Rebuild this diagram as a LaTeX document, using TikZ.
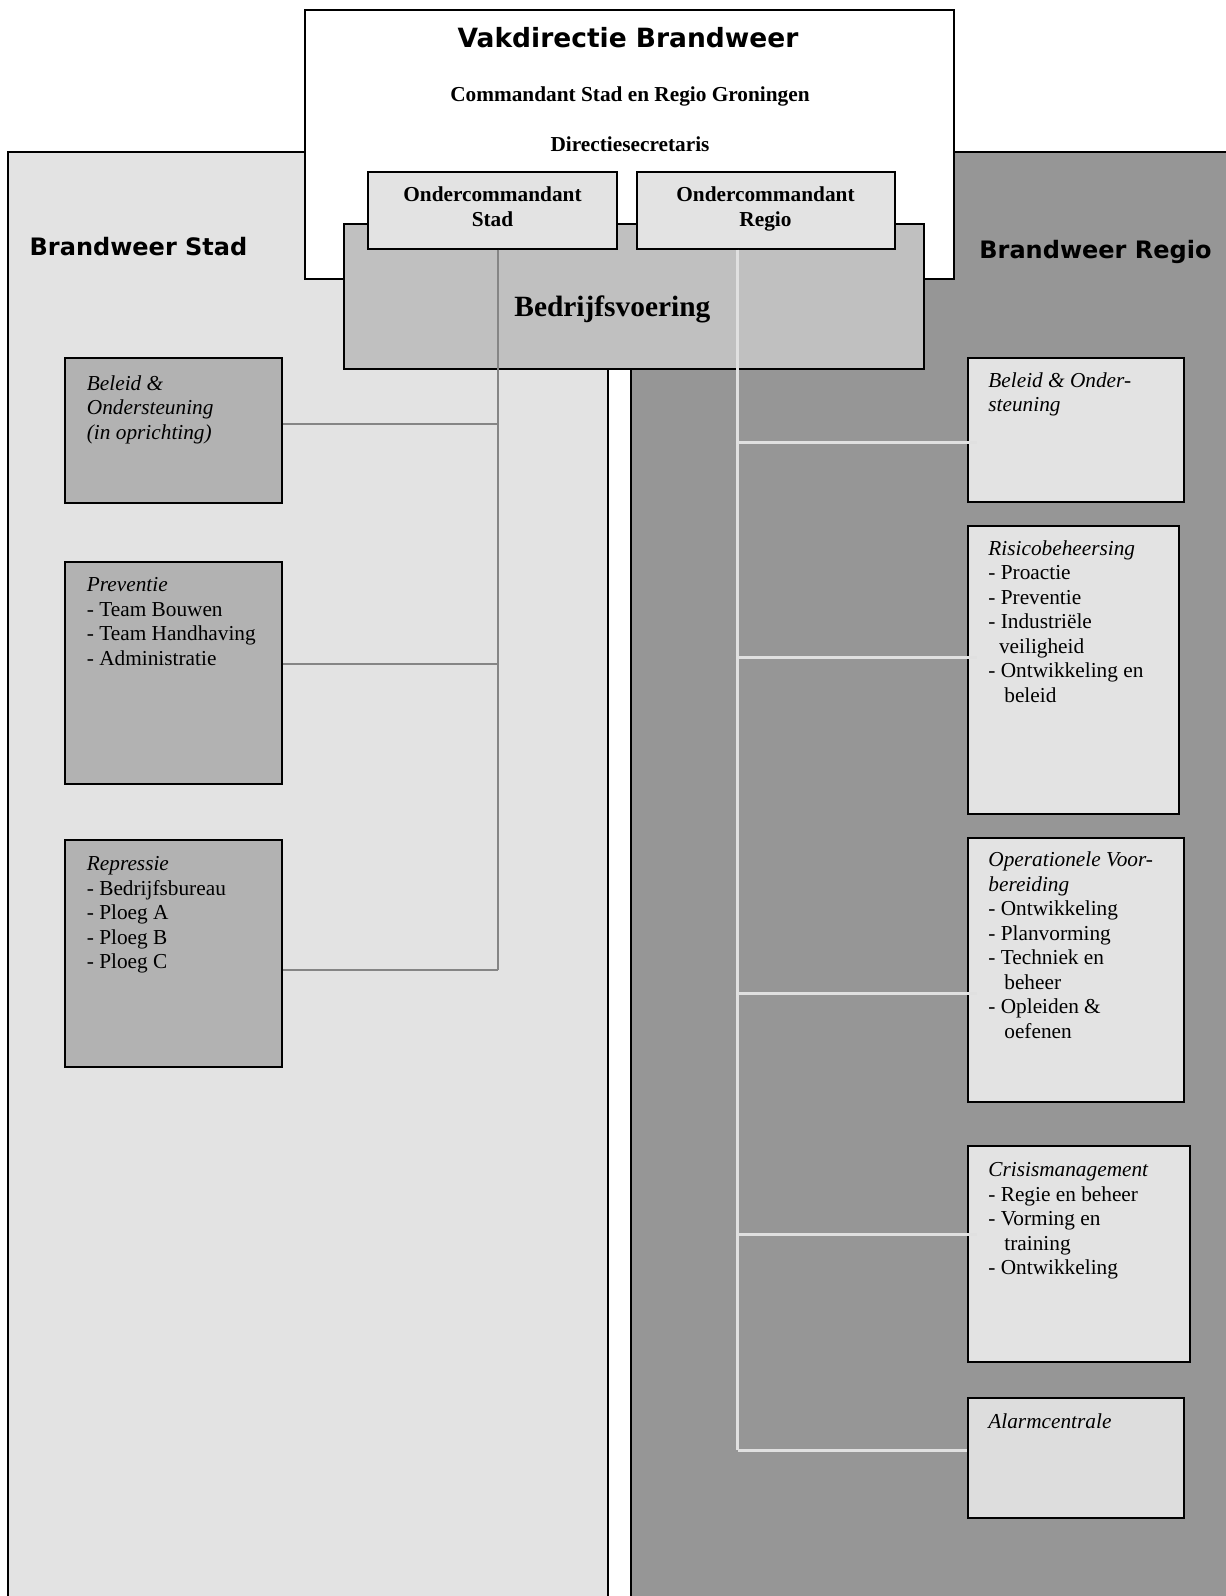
\documentclass[tikz,border=0pt]{standalone}
\usepackage{fontspec}
\setmainfont{Liberation Serif}
\newfontfamily\headfont{DejaVu Sans}
\usetikzlibrary{fit}
\definecolor{lpanelc}{HTML}{E3E3E3}
\definecolor{rpanelc}{HTML}{969696}
\definecolor{lboxc}{HTML}{B2B2B2}
\definecolor{rboxc}{HTML}{E3E3E3}
\definecolor{alarmc}{HTML}{DDDDDD}
\definecolor{bedrc}{HTML}{C0C0C0}
\definecolor{ocboxc}{HTML}{E3E3E3}
\definecolor{llinec}{HTML}{858585}
\definecolor{rlinec}{HTML}{E0E0E0}
\newcommand\bodysize{\fontsize{10.65}{12.25}\selectfont}
\begin{document}
\begin{tikzpicture}[x=0.5pt,y=-0.5pt,
  panelbox/.style={draw=black,line width=1pt,inner sep=0pt},
  unitbox/.style={draw=black,line width=1pt,inner sep=0pt},
  lconn/.style={draw=llinec,line width=1pt},
  rconn/.style={draw=rlinec,line width=1.5pt},
  txt/.style={inner sep=0pt,anchor=base west,font=\bodysize},
  ctxt/.style={inner sep=0pt,anchor=base,font=\bodysize\bfseries},
  headtxt/.style={inner sep=0pt,anchor=base west,font=\headfont\bfseries\fontsize{12}{14}\selectfont}]
\useasboundingbox (0,0) rectangle (1226,1596);
\clip (0,0) rectangle (1226,1596);
% panels
\node[panelbox,fill=lpanelc,fit={(7.5,152)(608,1620)}] (lp) {};
\node[panelbox,fill=rpanelc,fit={(631,152)(1240,1620)}] (rp) {};
% top white box
\node[panelbox,fill=white,fit={(305,10)(954,279)}] (top) {};
% Bedrijfsvoering
\node[unitbox,fill=bedrc,fit={(343.5,224)(924,369)}] (bedr) {};
% Ondercommandant boxes
\node[unitbox,fill=ocboxc,fit={(368,172)(617,248.5)}] (ocs) {};
\node[unitbox,fill=ocboxc,fit={(636.5,172)(894.5,248.5)}] (ocr) {};
% left boxes
\node[unitbox,fill=lboxc,fit={(65,358)(282,503)}] (lb1) {};
\node[unitbox,fill=lboxc,fit={(65,561.5)(282,784)}] (lb2) {};
\node[unitbox,fill=lboxc,fit={(65,840)(282,1066.5)}] (lb3) {};
% right boxes
\node[unitbox,fill=rboxc,fit={(968,358)(1184,501.5)}] (rb1) {};
\node[unitbox,fill=rboxc,fit={(968,526)(1179,814)}] (rb2) {};
\node[unitbox,fill=rboxc,fit={(968,838)(1184,1101.5)}] (rb3) {};
\node[unitbox,fill=rboxc,fit={(968,1146)(1190,1362)}] (rb4) {};
\node[unitbox,fill=alarmc,fit={(968,1398)(1184,1518)}] (rb5) {};
% connector coordinates
\coordinate (s1) at (498,424);
\coordinate (s2) at (498,664);
\coordinate (s3) at (498,970);
\coordinate (r1) at (737.5,442);
\coordinate (r2) at (737.5,657);
\coordinate (r3) at (737.5,993);
\coordinate (r4) at (737.5,1234);
\coordinate (r5) at (737.5,1450);
% left connectors
\draw[lconn] (ocs.south -| s3) -- (s3);
\draw[lconn] (s1) -- (s1 -| lb1.east);
\draw[lconn] (s2) -- (s2 -| lb2.east);
\draw[lconn] (s3) -- (s3 -| lb3.east);
% right connectors
\draw[rconn] (ocr.south -| r5) -- (r5);
\draw[rconn] (r1) -- ([xshift=5pt]r1 -| rb1.west);
\draw[rconn] (r2) -- ([xshift=5pt]r2 -| rb2.west);
\draw[rconn] (r3) -- ([xshift=5pt]r3 -| rb3.west);
\draw[rconn] (r4) -- ([xshift=5pt]r4 -| rb4.west);
\draw[rconn] (r5) -- (r5 -| rb5.west);
% headings
\node[inner sep=0pt,anchor=base,font=\headfont\bfseries\fontsize{13.25}{16}\selectfont] (ttitle) at (628,47) {Vakdirectie Brandweer};
\node[ctxt] (tcmd) at (630,101.7) {Commandant Stad en Regio Groningen};
\node[ctxt] (tsec) at (630,151.7) {Directiesecretaris};
\node[ctxt] (tocs) at (492.5,201.7) {\parbox[t]{120pt}{\centering Ondercommandant\\Stad}};
\node[ctxt] (tocr) at (765.5,201.7) {\parbox[t]{120pt}{\centering Ondercommandant\\Regio}};
\node[inner sep=0pt,anchor=base,font=\bfseries\fontsize{14.7}{17}\selectfont] (tbedr) at (612.4,316.7) {Bedrijfsvoering};
\node[headtxt] (tstad) at (29.3,255.7) {Brandweer Stad};
\node[headtxt] (tregio) at (979,258) {Brandweer Regio};
% left box texts
\node[txt] (tl1) at (86.5,390) {\parbox[t]{100pt}{\raggedright\itshape Beleid \&\\Ondersteuning\\(in oprichting)}};
\node[txt] (tl2) at (86.5,591.7) {\parbox[t]{100pt}{\raggedright\textit{Preventie}\\- Team Bouwen\\- Team Handhaving\\- Administratie}};
\node[txt] (tl3) at (86.5,870.7) {\parbox[t]{100pt}{\raggedright\textit{Repressie}\\- Bedrijfsbureau\\- Ploeg A\\- Ploeg B\\- Ploeg C}};
% right box texts
\node[txt] (tr1) at (988,387) {\parbox[t]{100pt}{\raggedright\itshape Beleid \& Onder-\\steuning}};
\node[txt] (tr2) at (988,555) {\parbox[t]{100pt}{\raggedright\textit{Risicobeheersing}\\- Proactie\\- Preventie\\- Industriële\\\hspace*{0.5em}veiligheid\\- Ontwikkeling en\\\hspace*{0.75em}beleid}};
\node[txt] (tr3) at (988,866.7) {\parbox[t]{100pt}{\raggedright\textit{Operationele Voor-}\\\textit{bereiding}\\- Ontwikkeling\\- Planvorming\\- Techniek en\\\hspace*{0.75em}beheer\\- Opleiden \&\\\hspace*{0.75em}oefenen}};
\node[txt] (tr4) at (988,1176.7) {\parbox[t]{100pt}{\raggedright\textit{Crisismanagement}\\- Regie en beheer\\- Vorming en\\\hspace*{0.75em}training\\- Ontwikkeling}};
\node[txt] (tr5) at (988,1428) {\parbox[t]{100pt}{\raggedright\textit{Alarmcentrale}}};
\end{tikzpicture}
\end{document}
